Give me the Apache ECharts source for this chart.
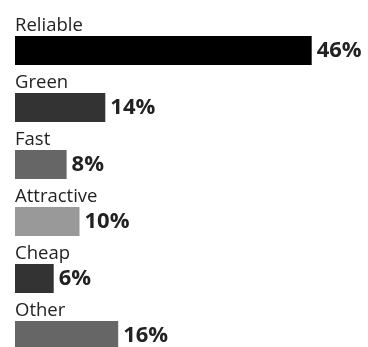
<html>
<head>
<meta charset="UTF-8" />
<script src="https://cdn.jsdelivr.net/npm/echarts@6/dist/echarts.min.js"></script>
</head>
<style type="text/css">
    *{
        margin: 0;
        padding: 0;
    }
    body{
        background: #fff;
    }
    #chart{
        width: 368px;
        height: 347px;
    }
</style>
<body>
<div id="chart"></div>
<script type="text/javascript">
    // data
    var categories = ['Reliable', 'Green', 'Fast', 'Attractive', 'Cheap', 'Other'];
    var values = [46, 14, 8, 10, 6, 16];
    var barColors = ['#000000', '#333333', '#666666', '#999999', '#333333', '#666666'];

    var myChart = echarts.init(document.getElementById('chart'));

    var option = {
        animation: false,
        grid: {
            left: 15,
            top: 22,
            width: 322.5,
            height: 342,
            outerBoundsMode: 'none' // let the last bar run past the bottom edge
        },
        xAxis: {
            type: 'value',
            min: 0,
            max: 50,
            show: false
        },
        yAxis: {
            type: 'category',
            data: categories,
            inverse: true,
            show: false
        },
        series: [{
            type: 'bar',
            barWidth: 29,
            data: values.map(function (v, i) {
                return {value: v, itemStyle: {color: barColors[i]}};
            }),
            label: {
                show: true,
                position: 'right',
                distance: 5,
                formatter: '{c}%',
                fontFamily: 'Open Sans',
                fontWeight: 'bold',
                fontSize: 22,
                color: '#222222'
            }
        }, {
            // transparent copy, only used to put the name above each bar
            type: 'bar',
            barWidth: 29,
            barGap: '-100%',
            data: values,
            itemStyle: {color: 'rgba(0,0,0,0)'},
            label: {
                show: true,
                position: [0, -1],
                align: 'left',
                verticalAlign: 'bottom',
                formatter: '{b}',
                fontFamily: 'Open Sans',
                fontSize: 18.5,
                color: '#222222'
            }
        }]
    };
    myChart.setOption(option);
</script>
</body>
</html>
